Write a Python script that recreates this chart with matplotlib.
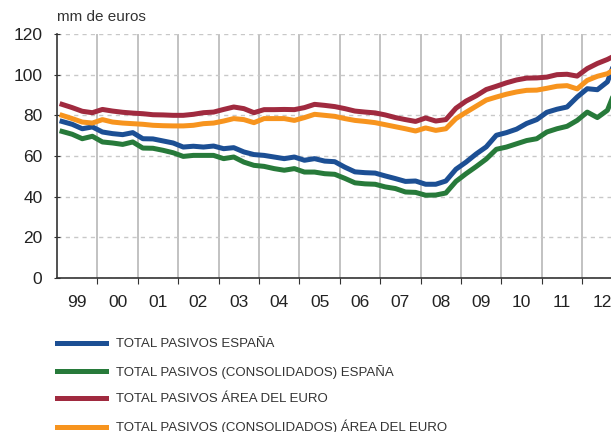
import numpy as np
import matplotlib
matplotlib.use("Agg")
import matplotlib.pyplot as plt
from matplotlib.ticker import MultipleLocator, FixedLocator, FixedFormatter

plt.rcParams['font.family'] = ['Liberation Sans', 'DejaVu Sans']

# datos trimestrales 1999T1 - 2012T4 (mm de euros)
years = list(range(1999, 2013))
year_labels = ["99", "00", "01", "02", "03", "04", "05", "06", "07", "08", "09", "10", "11", "12"]

pasivos_espana = [
    77.0, 75.6, 73.4, 74.3, 71.8, 71.0, 70.5, 71.5, 68.5, 68.4, 67.4, 66.4,
    64.4, 64.8, 64.4, 64.9, 63.6, 64.1, 62.0, 60.7, 60.3, 59.5, 58.7, 59.5,
    57.9, 58.7, 57.5, 57.2, 54.5, 52.2, 51.8, 51.6, 50.2, 48.9, 47.5, 47.7,
    46.1, 46.1, 47.7, 53.5, 57.0, 61.0, 64.5, 70.2, 71.5, 73.2, 76.0, 77.9,
    81.5, 83.0, 84.1, 89.0, 93.1, 92.6, 96.5, 110.0]
consolidados_espana = [
    72.1, 70.7, 68.5, 69.7, 66.9, 66.4, 65.7, 66.9, 63.9, 63.8, 62.8, 61.6,
    59.8, 60.3, 60.3, 60.3, 58.7, 59.5, 57.0, 55.4, 54.9, 53.8, 53.0, 53.8,
    52.1, 52.1, 51.3, 51.0, 49.0, 46.8, 46.3, 46.1, 44.8, 44.0, 42.3, 42.1,
    40.7, 40.8, 41.8, 47.5, 51.3, 54.8, 58.5, 63.3, 64.4, 66.0, 67.6, 68.5,
    71.8, 73.4, 74.6, 77.5, 81.6, 78.9, 82.5, 95.0]
pasivos_euro = [
    85.4, 83.8, 82.0, 81.3, 82.9, 82.1, 81.5, 81.1, 80.8, 80.3, 80.2, 80.0,
    80.0, 80.5, 81.3, 81.6, 82.9, 84.1, 83.3, 81.3, 82.8, 82.8, 82.9, 82.8,
    83.8, 85.4, 84.9, 84.3, 83.3, 82.1, 81.6, 81.2, 80.2, 78.9, 77.9, 77.0,
    78.7, 77.2, 77.9, 83.5, 87.0, 89.6, 92.7, 94.3, 96.0, 97.4, 98.3, 98.4,
    98.8, 100.0, 100.2, 99.3, 103.0, 105.5, 107.5, 110.0]
consolidados_euro = [
    80.0, 78.4, 76.7, 76.2, 77.9, 76.7, 76.2, 75.9, 75.6, 75.1, 74.9, 74.8,
    74.8, 75.1, 75.9, 76.2, 77.2, 78.4, 77.9, 76.4, 78.4, 78.4, 78.4, 77.5,
    78.9, 80.5, 80.0, 79.5, 78.4, 77.5, 77.0, 76.4, 75.4, 74.4, 73.4, 72.3,
    73.8, 72.6, 73.4, 78.4, 81.5, 84.5, 87.5, 89.0, 90.4, 91.5, 92.3, 92.4,
    93.3, 94.3, 94.6, 93.0, 97.2, 99.2, 100.5, 103.5]

labels = ["TOTAL PASIVOS ESPAÑA",
          "TOTAL PASIVOS (CONSOLIDADOS) ESPAÑA",
          "TOTAL PASIVOS ÁREA DEL EURO",
          "TOTAL PASIVOS (CONSOLIDADOS) ÁREA DEL EURO"]
colores = ["#1c4f94", "#277a3a", "#a02a3f", "#f7941e"]

# eje temporal: centro de cada trimestre
t = np.array([y + (q + 0.5) / 4 for y in years for q in range(4)])

fig = plt.figure(figsize=(6.11, 4.32), dpi=100)
ax = fig.add_axes([57 / 611, 154 / 432, 565.6 / 611, 244 / 432])

series = [pasivos_espana, consolidados_espana, pasivos_euro, consolidados_euro]
lines = []
for s, c, l in zip(series, colores, labels):
    ln, = ax.plot(t, s, color=c, lw=3.6, label=l, solid_joinstyle='round', zorder=3)
    lines.append(ln)

ax.set_xlim(1999, 2013)
ax.set_ylim(0, 120)
ax.yaxis.set_major_locator(MultipleLocator(20))

# rejilla
ax.grid(axis='y', ls=(0, (3, 3)), color='#c8c8c8', lw=1)
ax.xaxis.set_major_locator(FixedLocator(years[1:] + [2013]))
ax.xaxis.set_major_formatter(FixedFormatter([""] * 14))
ax.xaxis.set_minor_locator(FixedLocator([y + 0.5 for y in years]))
ax.xaxis.set_minor_formatter(FixedFormatter(year_labels))
ax.grid(axis='x', which='major', ls='-', color='#bdbdbd', lw=1.3)

for side in ['top', 'right']:
    ax.spines[side].set_visible(False)
for side in ['left', 'bottom']:
    ax.spines[side].set_color('#333333')
    ax.spines[side].set_linewidth(1.2)

ax.tick_params(axis='y', direction='inout', length=5, color='#333333',
               labelsize=12.5, labelcolor='#222222', pad=8)
ax.tick_params(axis='x', which='major', direction='out', length=4, color='#333333')
ax.tick_params(axis='x', which='minor', length=0, labelsize=12.5,
               labelcolor='#222222', pad=12)

fig.text(57 / 611, 1 - 17 / 432, "mm de euros", fontsize=11, color='#333333',
         va='center', ha='left')

fig.legend(handles=lines, loc='upper left', bbox_to_anchor=(57 / 611, 1 - 338 / 432),
           frameon=False, handlelength=3.7, handletextpad=0.75,
           labelspacing=1.1, borderpad=0, borderaxespad=0,
           prop={'size': 9.5}, labelcolor='#333333')

fig.savefig("out.png", dpi=100)
